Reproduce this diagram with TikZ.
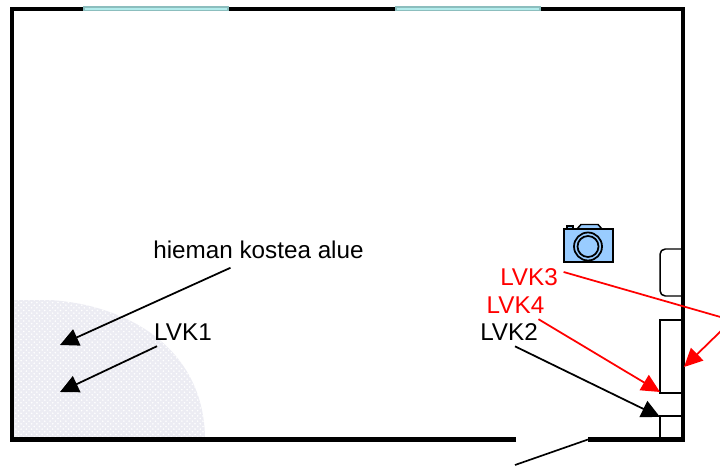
\documentclass[tikz,border=0pt]{standalone}
\usepackage{fontspec}
\setmainfont{Liberation Sans}
\usetikzlibrary{arrows.meta,patterns}
\tikzset{
  wall/.style={line width=2.3pt,line cap=butt},
  fixture/.style={draw,line width=0.85pt},
  pane/.style={draw=panegrey,fill=panecyan,line width=0.6pt},
  label/.style={font=\fontsize{13.8pt}{16pt}\selectfont,inner sep=2pt},
  pointer/.style={line width=1pt,-{Triangle[length=10.5pt,width=10pt]}},
}
\definecolor{dampgrey}{RGB}{236,236,243}
\definecolor{camblue}{RGB}{153,204,255}
\definecolor{panecyan}{RGB}{178,236,236}
\definecolor{panegrey}{RGB}{140,190,190}
\begin{document}
\begin{tikzpicture}[x=0.02cm,y=-0.02cm]
\useasboundingbox (0,0) rectangle (720,466);
% damp area
\fill [dampgrey] (13,300) -- (50,300) .. controls (130,305) and (205,350) .. (205,440) -- (13,440) -- cycle;
\fill [pattern=crosshatch dots,pattern color=white] (13,300) -- (50,300) .. controls (130,305) and (205,350) .. (205,440) -- (13,440) -- cycle;
% walls
\draw [wall] (516,439.5) -- (12,439.5) -- (12,9) -- (683,9) -- (683,439.5) -- (588,439.5);
\draw [line width=0.95pt] (588,439.5) -- (515,465);
% windows
\draw [pane] (84,7) rectangle (228,10.5);
\draw [pane] (396,7) rectangle (540,10.5);
% fixtures
\draw [fixture,rounded corners=3pt] (681,249) -- (660,249) -- (660,296) -- (681,296);
\draw [fixture] (681,320) -- (660,320) -- (660,393) -- (681,393);
\draw [fixture] (681,416) -- (660,416) -- (660,439);
% camera
\draw [fill=camblue,line width=0.85pt] (577,229) -- (581,224.5) -- (598,224.5) -- (602,229) -- cycle;
\draw [fill=camblue,line width=0.85pt] (567,229) -- (567,226) -- (573,226) -- (573,229) -- cycle;
\draw [fill=camblue,line width=1.1pt] (564,229) rectangle (613,262);
\draw [line width=1pt] (588,246.5) circle (14);
\draw [line width=1pt] (588,246.5) circle (10.5);
% labels
\node [label] (kostea) at (258.5,250) {hieman kostea alue};
\node [label] (lvkone) at (183,332) {LVK1};
\node [label] (lvktwo) at (509,332) {LVK2};
\node [label,red] (lvkthree) at (529,277) {LVK3};
\node [label,red] (lvkfour) at (515.5,305) {LVK4};
% arrow ends
\coordinate (tipa) at (60,345);
\coordinate (tipb) at (60,392);
\coordinate (tipc) at (660,417);
\coordinate (tipd) at (660,392);
\coordinate (tipe) at (684,367);
\coordinate (outa) at (724,318);
\coordinate (outb) at (724,328);
% arrows
\draw [pointer] ([shift={(-28,5)}]kostea.south) -- (tipa);
\draw [pointer] ([shift={(-26,2)}]lvkone.south) -- (tipb);
\draw [pointer] ([shift={(6,2)}]lvktwo.south) -- (tipc);
\draw [pointer,red] ([shift={(23,2)}]lvkfour.south) -- (tipd);
\draw [line width=1pt,red] ([shift={(2,-5)}]lvkthree.east) -- (outa);
\draw [pointer,red] (outb) -- (tipe);
\end{tikzpicture}
\end{document}
